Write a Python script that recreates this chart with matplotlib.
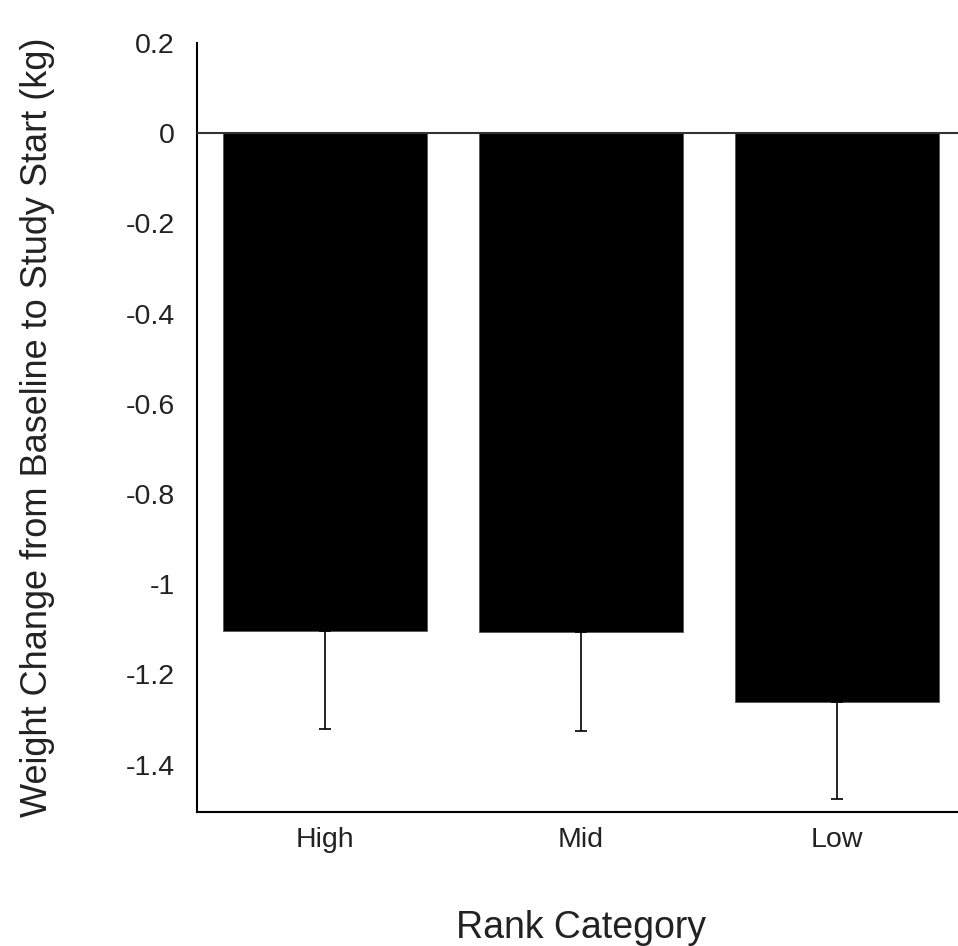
import matplotlib
matplotlib.use("Agg")
import matplotlib.pyplot as plt

categories = ["High", "Mid", "Low"]
weight_change = [-1.103, -1.107, -1.262]
error_lower = [0.219, 0.219, 0.215]

plt.rcParams['font.family'] = ['Liberation Sans', 'DejaVu Sans']

fig = plt.figure(figsize=(9.58, 9.46), dpi=100)
# axes run slightly past the right edge of the canvas
ax = fig.add_axes([197 / 958, 1 - 812 / 946, (965 - 197) / 958, (812 - 43) / 946])

x = range(len(categories))
ax.bar(x, weight_change, width=0.8, color="black", edgecolor="#555555", linewidth=0.6, zorder=2)
ax.errorbar(x, weight_change, yerr=[error_lower, [0] * len(categories)], fmt="none",
            ecolor="black", elinewidth=1.2, capsize=4, capthick=1.2, zorder=3)
ax.axhline(0, color="#333333", linewidth=1.5, zorder=4)

ax.set_xlim(-0.5, 2.5)
ax.set_ylim(-1.505, 0.195)
ax.set_xticks(list(x))
ax.set_xticklabels(categories)
ax.set_yticks([0.2, 0, -0.2, -0.4, -0.6, -0.8, -1, -1.2, -1.4])
ax.set_yticklabels(["0.2", "0", "-0.2", "-0.4", "-0.6", "-0.8", "-1", "-1.2", "-1.4"])
ax.tick_params(axis="both", length=0, labelsize=20.5, colors="#222222")
ax.tick_params(axis="y", pad=16)
ax.tick_params(axis="x", pad=11)

ax.spines["top"].set_visible(False)
ax.spines["right"].set_visible(False)
ax.spines["left"].set_linewidth(1.5)
ax.spines["bottom"].set_linewidth(1.5)

ax.set_xlabel("Rank Category", fontsize=27, color="#222222", labelpad=41)
ax.set_ylabel("Weight Change from Baseline to Study Start (kg)", fontsize=26,
              color="#222222", labelpad=51)

fig.savefig("out.png", dpi=100)
